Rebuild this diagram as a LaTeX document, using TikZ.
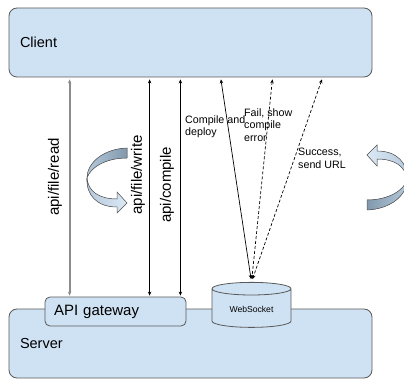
\documentclass[tikz,border=0pt]{standalone}
\usepackage{fontspec}
\setmainfont{Liberation Sans}
\usetikzlibrary{arrows.meta,shapes.geometric}
\definecolor{boxblue}{HTML}{CFE2F3}
\definecolor{boxline}{HTML}{595959}
\definecolor{twistdark}{HTML}{8299AD}
\definecolor{twistmid}{HTML}{B4C8DB}
\definecolor{twistlight}{HTML}{DCE9F6}
\definecolor{readline}{HTML}{8C8C8C}
\tikzset{%
  box/.style   = {shape=rectangle, rounded corners=8pt, draw=boxline, fill=boxblue,%
                  line width=0.8pt, align=left, inner xsep=11pt,%
                  font=\fontsize{14.5}{17}\selectfont},%
  gate/.style  = {box, rounded corners=5pt, inner xsep=9pt, font=\fontsize{15}{18}\selectfont},%
  store/.style = {shape=cylinder, shape border rotate=90, aspect=0.25,%
                  draw=boxline, fill=boxblue, line width=0.8pt,%
                  minimum width=79pt, minimum height=45pt, font=\fontsize{8.6}{10}\selectfont},%
  call/.style  = {<->, >={Stealth[length=4pt,width=3.5pt]}, line width=0.7pt,%
                  shorten <=2pt, shorten >=1pt},%
  reply/.style = {call, dash pattern=on 3pt off 2pt},%
  note/.style  = {font=\fontsize{10.7}{12.5}\selectfont, align=left, anchor=west, inner sep=1pt},%
  api/.style   = {font=\fontsize{15}{18}\selectfont, rotate=90, inner sep=0pt},%
  twist/.style = {draw=boxline, line width=0.5pt}%
}
\begin{document}
\begin{tikzpicture}[x=1pt,y=-1pt]
	\useasboundingbox (0,0) rectangle (404,379);
	\clip (0,0) rectangle (404,379);
	\node[box, minimum width=363pt, minimum height=69pt, text width=341pt] (client) at (190.5,42.5) {Client};
	\node[box, minimum width=363pt, minimum height=69pt, text width=341pt] (server) at (190.5,343.5) {Server};
	\node[gate, minimum width=141pt, minimum height=29pt, text width=123pt] (gateway) at (115.5,311.5) {API gateway};
	\node[store] (websocket) at (251.5,309.5) {\raisebox{-2pt}{WebSocket}};

	\coordinate (read)    at ([xshift=25pt]gateway.north west);
	\coordinate (write)   at ([xshift=105pt]gateway.north west);
	\coordinate (compile) at ([xshift=-6pt]gateway.north east);
	\draw[call, color=readline, line width=1.8pt, >={Stealth[length=4pt,width=3.5pt]}] (client.south -| read) -- (read);
	\draw[call] (client.south -| write) -- (write);
	\draw[call] (client.south -| compile) -- (compile);
	\node[api] (readlabel)    at (55,177) {api/file/read};
	\node[api] (writelabel)   at (138,175) {api/file/write};
	\node[api] (compilelabel) at (167,185) {api/compile};

	\draw[call, shorten >=3pt] ([xshift=212pt]client.south west) -- (websocket.north);
	\draw[reply, shorten >=3pt] ([xshift=264pt]client.south west) -- (websocket.north);
	\draw[reply, shorten >=3pt] ([xshift=314pt]client.south west) -- (websocket.north);
	\node[note] (deploy)  at (184,126.5) {Compile and\\deploy};
	\node[note] (fail)    at (243,125)   {Fail, show\\compile\\error};
	\node[note] (success) at (297,158.5) {Success,\\send URL};

	% curved arrows
	\filldraw[twist, left color=twistmid, right color=twistdark]
		(127,148) .. controls (103,149) and (87,163) .. (87,178)
		.. controls (90,168) and (105,158) .. (127,158) -- cycle;
	\filldraw[twist, left color=twistmid, right color=twistlight]
		(87,178) .. controls (88,192) and (100,199) .. (117,199) -- (117,192) -- (127,203)
		-- (117,213) -- (117,207) .. controls (97,207) and (86,195) .. (87,178) -- cycle;
	\filldraw[twist, left color=twistdark, right color=twistmid]
		(367,210) .. controls (391,209) and (407,195) .. (407,180)
		.. controls (404,190) and (389,200) .. (367,200) -- cycle;
	\filldraw[twist, left color=twistlight, right color=twistmid]
		(407,180) .. controls (406,166) and (394,159) .. (377,159) -- (377,166) -- (367,155)
		-- (377,145) -- (377,151) .. controls (397,151) and (408,163) .. (407,180) -- cycle;
\end{tikzpicture}
\end{document}
